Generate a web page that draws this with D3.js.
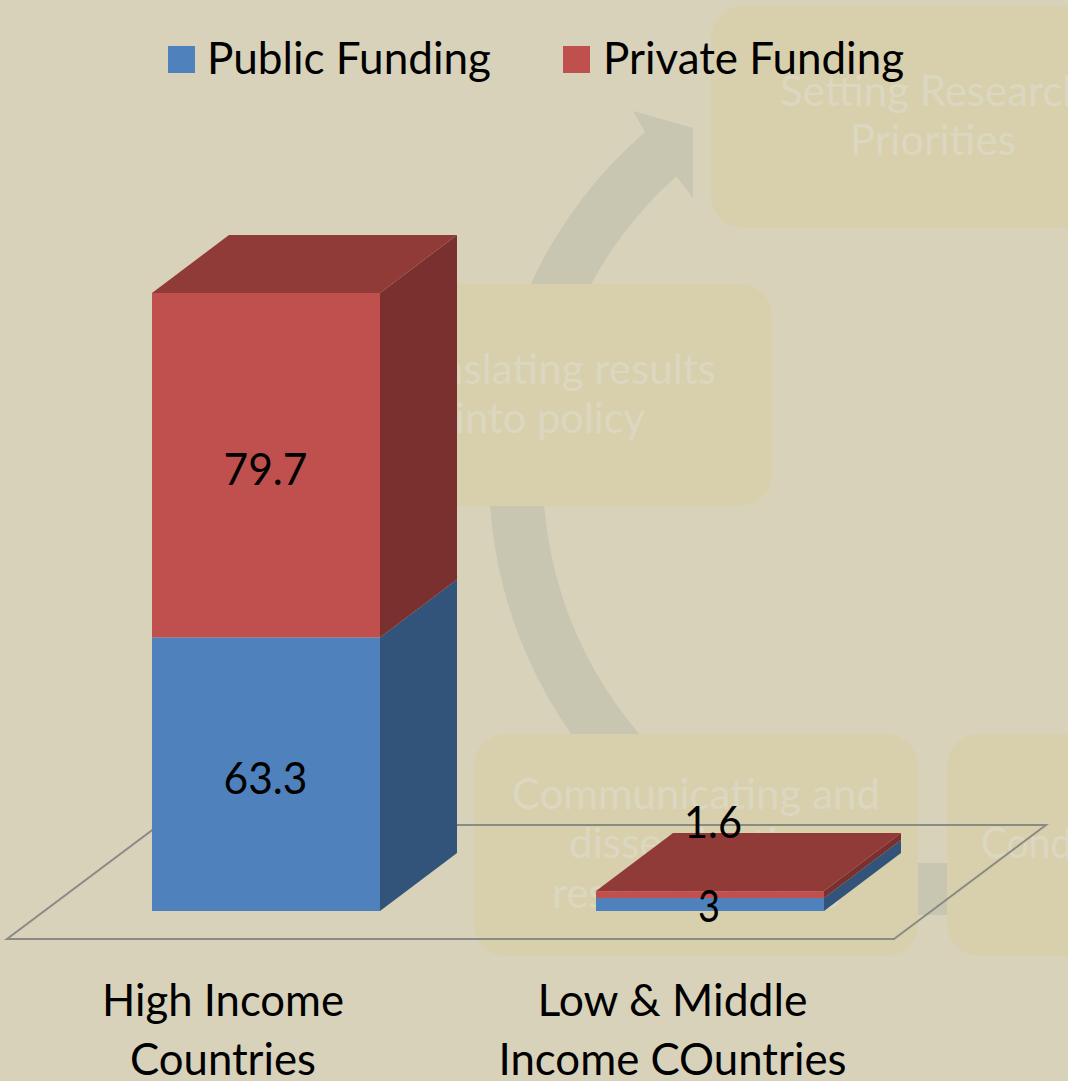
<!DOCTYPE html>
<html>
<head>
<meta charset="utf-8">
<script src="https://cdnjs.cloudflare.com/ajax/libs/d3/7.8.5/d3.min.js"></script>
<style>
html,body{margin:0;padding:0;background:#d8d2ba;overflow:hidden}
svg{display:block}
text{font-family:Lato,"Open Sans",sans-serif}
</style>
</head>
<body>
<svg id="chart" width="1068" height="1081"></svg>
<script>
// Funding by income group, stacked public + private
const categories = ["High Income Countries", "Low & Middle Income COuntries"];
const publicFunding = [63.3, 3];
const privateFunding = [79.7, 1.6];
const seriesNames = ["Public Funding", "Private Funding"];

const W = 1068, H = 1081;
const svg = d3.select("#chart");

const x = d3.scaleBand().domain(categories).range([44, 932]).paddingInner(216 / 444).paddingOuter(108 / 444);
const y = d3.scaleLinear().domain([0, 143]).range([911, 293]);

// Oblique projection offsets for the 3D bar depth
const depthX = 77, depthY = 58;

const palette = {
  "Public Funding": { front: "#4f81bd", side: "#32537a", top: "#3f6797" },
  "Private Funding": { front: "#c0504d", side: "#7b3030", top: "#913b39" }
};

const poly = pts => d3.line()(pts) + "Z";

function put(g, str, px, py, width, size, anchor, fill) {
  return g.append("text")
    .attr("x", px).attr("y", py)
    .attr("font-size", size)
    .attr("text-anchor", anchor)
    .attr("fill", fill)
    .attr("textLength", width)
    .attr("lengthAdjust", "spacingAndGlyphs")
    .text(str);
}

/* Faded cycle diagram behind the chart */
const bg = svg.append("g");
svg.insert("rect", "g").attr("width", W).attr("height", H).attr("fill", "#d8d2ba");

const cx = 942, cy = 474, rIn = 399, rOut = 453;
const ang = (px, py) => { const a = Math.atan2(py - cy, px - cx); return a < 0 ? a + 2 * Math.PI : a; };
const p = d3.path();
const a0 = ang(600, 800);
const a1 = ang(646, 133), a2 = ang(677, 177);
p.arc(cx, cy, rOut, a0, a1, false);
p.lineTo(633, 111);
p.lineTo(693, 128);
p.lineTo(693, 198);
p.lineTo(cx + rIn * Math.cos(a2), cy + rIn * Math.sin(a2));
p.arc(cx, cy, rIn, a2, a0, true);
p.closePath();
bg.append("path").attr("d", p.toString()).attr("fill", "#c8c5b0");
bg.append("rect").attr("x", 915).attr("y", 863).attr("width", 35).attr("height", 52).attr("fill", "#c8c5b0");

const boxFill = "#d8d0ad";
[[711, 6], [328, 284], [474, 734], [947, 734]].forEach(([bx, by]) => {
  bg.append("rect").attr("x", bx).attr("y", by).attr("width", 444).attr("height", 222)
    .attr("rx", 32).attr("ry", 32).attr("fill", boxFill);
});

const ghost = "#dbd7c0";
put(bg, "Setting Research", 780, 106, 306, 42, "start", ghost);
put(bg, "Priorities", 933, 155, 166, 42, "middle", ghost);
put(bg, "Translating results", 550, 384, 332, 42, "middle", ghost);
put(bg, "into policy", 550, 433, 190, 42, "middle", ghost);
put(bg, "Communicating and", 696, 809, 368, 42, "middle", ghost);
put(bg, "disseminating", 696, 858, 254, 42, "middle", ghost);
put(bg, "research results", 696, 908, 288, 42, "middle", ghost);
put(bg, "Conducting Research", 981, 858, 362, 42, "start", ghost);

/* Floor plane */
svg.append("path")
  .attr("d", poly([[7, 939], [894, 939], [1046, 825], [159, 825]]))
  .attr("fill", "none").attr("stroke", "#8b8b85").attr("stroke-width", 2);

/* Stacked prisms */
const stack = d3.stack().keys(seriesNames)
  .value((d, k) => (k === "Public Funding" ? publicFunding : privateFunding)[d]);
const layers = stack(d3.range(categories.length));

const bars = svg.append("g");
categories.forEach((c, i) => {
  const xl = x(c), xr = xl + x.bandwidth();
  layers.forEach((layer, li) => {
    const col = palette[layer.key];
    const yb = y(layer[i][0]), yt = y(layer[i][1]);
    const g = bars.append("g");
    g.append("path").attr("fill", col.side)
      .attr("d", poly([[xr, yb], [xr + depthX, yb - depthY], [xr + depthX, yt - depthY], [xr, yt]]));
    g.append("rect").attr("fill", col.front)
      .attr("x", xl).attr("y", yt).attr("width", xr - xl).attr("height", yb - yt);
    if (li === layers.length - 1) {
      g.append("path").attr("fill", col.top)
        .attr("d", poly([[xl, yt], [xl + depthX, yt - depthY], [xr + depthX, yt - depthY], [xr, yt]]));
    }
  });
});

/* Data labels, the small pair nudged clear of their thin segments */
const ink = "#000";
const labels = svg.append("g");
const c0 = categories[0], c1 = categories[1];
const mid = c => x(c) + x.bandwidth() / 2;
put(labels, String(privateFunding[0]), mid(c0) - 0.5, y(publicFunding[0] + privateFunding[0] / 2) + 20, 84, 45, "middle", ink);
put(labels, String(publicFunding[0]), mid(c0) - 0.5, y(publicFunding[0] / 2) + 20, 84, 45, "middle", ink);
put(labels, String(privateFunding[1]), mid(c1) + 3, 838, 58, 45, "middle", ink);
put(labels, String(publicFunding[1]), mid(c1) - 1, 922, 22, 45, "middle", ink);

/* Category labels */
const cats = svg.append("g");
put(cats, "High Income", 223, 1016, 242, 45, "middle", ink);
put(cats, "Countries", 223, 1075, 186, 45, "middle", ink);
put(cats, "Low & Middle", 672.5, 1016, 270, 45, "middle", ink);
put(cats, "Income COuntries", 672.5, 1075, 348, 45, "middle", ink);

/* Legend */
const legend = svg.append("g");
[[168, 207, 284], [563, 603, 301]].forEach(([sx, tx, tw], i) => {
  legend.append("rect").attr("x", sx).attr("y", 46).attr("width", 27).attr("height", 27)
    .attr("fill", palette[seriesNames[i]].front);
  put(legend, seriesNames[i], tx, 74, tw, 45, "start", ink);
});
</script>
</body>
</html>
